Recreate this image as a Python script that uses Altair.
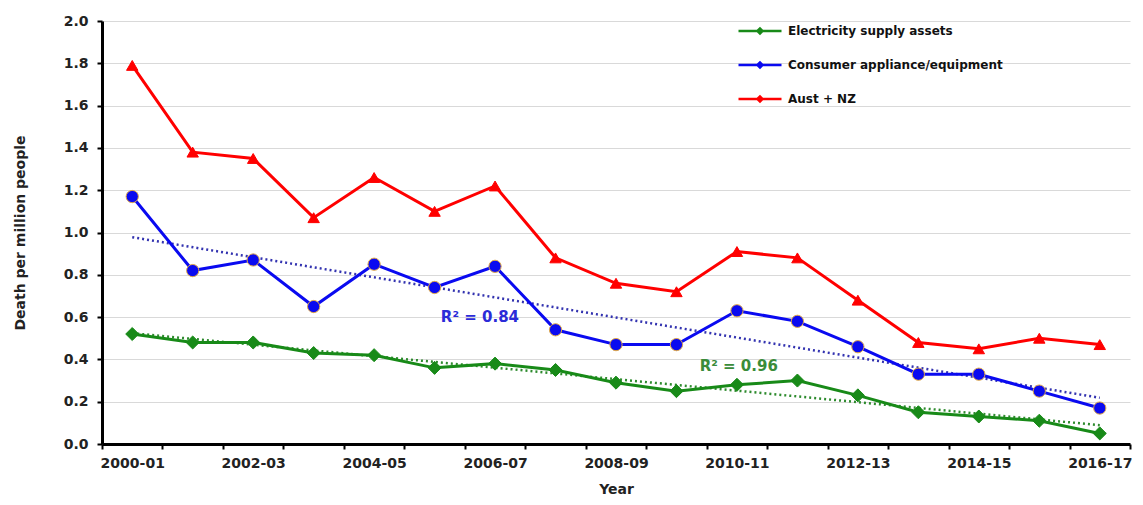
import altair as alt
import pandas as pd

years = ["2000-01", "2001-02", "2002-03", "2003-04", "2004-05", "2005-06",
         "2006-07", "2007-08", "2008-09", "2009-10", "2010-11", "2011-12",
         "2012-13", "2013-14", "2014-15", "2015-16", "2016-17"]

series_names = ["Electricity supply assets", "Consumer appliance/equipment", "Aust + NZ"]
marker_keys = ["elec", "cons", "aunz"]

electricity = [0.52, 0.48, 0.48, 0.43, 0.42, 0.36, 0.38, 0.35, 0.29, 0.25,
               0.28, 0.30, 0.23, 0.15, 0.13, 0.11, 0.05]
consumer = [1.17, 0.82, 0.87, 0.65, 0.85, 0.74, 0.84, 0.54, 0.47, 0.47,
            0.63, 0.58, 0.46, 0.33, 0.33, 0.25, 0.17]
aust_nz = [1.79, 1.38, 1.35, 1.07, 1.26, 1.10, 1.22, 0.88, 0.76, 0.72,
           0.91, 0.88, 0.68, 0.48, 0.45, 0.50, 0.47]

ann_labels = ["R² = 0.84", "R² = 0.96"]
ann_i = [5.75, 10.03]
ann_v = [0.60, 0.371]
ann_colors = ["#2B2BD8", "#3A8C3A"]

colors = ["#188A18", "#0A0AF0", "#FF0000"]
marker_strokes = ["#188A18", "#E0A848", "#FF0000"]
shapes = ["diamond", "circle", "triangle-up"]
sizes = [170, 130, 220]

rows = []
for name, key, vals in zip(series_names, marker_keys, [electricity, consumer, aust_nz]):
    for i, v in enumerate(vals):
        rows.append({"series": name, "mk": key, "year": years[i], "i": i, "v": v})
df = pd.DataFrame(rows)
ann = pd.DataFrame({"label": ann_labels, "i": ann_i, "v": ann_v, "c": ann_colors})

W = 1028
H = 423
band = W / len(years)
FONT = "DejaVu Sans"

label_arr = "[" + ",".join("'" + y + "'" for y in years) + "]"
label_expr = "((datum.value - 0.5) % 2 == 0) ? " + label_arr + "[datum.value - 0.5] : ''"

x_enc = alt.X(
    "i:Q",
    scale=alt.Scale(domain=[-0.5, len(years) - 0.5], nice=False, zero=False),
    axis=alt.Axis(
        values=[k - 0.5 for k in range(len(years) + 1)],
        labelExpr=label_expr,
        labelOffset=-band / 2,
        labelFlush=False,
        labelOverlap=False,
        grid=False,
        tickSize=5,
        tickWidth=2,
        tickColor="#000",
        domainColor="#000",
        domainWidth=3,
        labelPadding=7,
        labelFont=FONT,
        labelFontWeight="bold",
        labelFontSize=14,
        labelColor="#222",
        title="Year",
        titleFont=FONT,
        titleFontWeight="bold",
        titleFontSize=14,
        titleColor="#222",
        titlePadding=12,
    ),
)
y_enc = alt.Y(
    "v:Q",
    scale=alt.Scale(domain=[0, 2], nice=False),
    axis=alt.Axis(
        values=[k / 5 for k in range(11)],
        format=".1f",
        grid=True,
        gridColor="#D9D9D9",
        gridWidth=1,
        tickSize=5,
        tickWidth=2,
        tickColor="#000",
        domainColor="#000",
        domainWidth=3,
        labelPadding=9,
        labelFont=FONT,
        labelFontWeight="bold",
        labelFontSize=14,
        labelColor="#222",
        title="Death per million people",
        titleFont=FONT,
        titleFontWeight="bold",
        titleFontSize=14,
        titleColor="#222",
        titlePadding=36,
    ),
)

base = alt.Chart(df)

trend_blue = base.transform_filter(
    alt.datum.series == series_names[1]
).transform_regression("i", "v").mark_line(
    color="#3333B0", strokeWidth=2.5, strokeDash=[2, 3]
).encode(x=x_enc, y=y_enc)

trend_green = base.transform_filter(
    alt.datum.series == series_names[0]
).transform_regression("i", "v").mark_line(
    color="#2E8B2E", strokeWidth=2.5, strokeDash=[2, 3]
).encode(x=x_enc, y=y_enc)

legend = alt.Legend(
    title=None,
    orient="none",
    legendX=635,
    legendY=-13,
    symbolType="M-1,0H1M-0.12,0L0,-0.12L0.12,0L0,0.12Z",
    symbolSize=1849,
    symbolStrokeWidth=2.5,
    symbolFillColor=alt.ExprRef("scale('color', datum.value)"),
    labelFont=FONT,
    labelFontWeight="bold",
    labelFontSize=12,
    labelColor="#111",
    labelLimit=400,
    labelOffset=5,
    rowPadding=3,
)

lines = base.mark_line(strokeWidth=3).encode(
    x=x_enc,
    y=y_enc,
    color=alt.Color("series:N", scale=alt.Scale(domain=series_names, range=colors), legend=legend),
    detail="series:N",
)

points = base.mark_point(filled=True, opacity=1, strokeWidth=1).encode(
    x=x_enc,
    y=y_enc,
    fill=alt.Fill("mk:N", scale=alt.Scale(domain=marker_keys, range=colors), legend=None),
    stroke=alt.Stroke("mk:N", scale=alt.Scale(domain=marker_keys, range=marker_strokes), legend=None),
    shape=alt.Shape("mk:N", scale=alt.Scale(domain=marker_keys, range=shapes), legend=None),
    size=alt.Size("mk:N", scale=alt.Scale(domain=marker_keys, range=sizes), legend=None),
)

texts = alt.Chart(ann).mark_text(font=FONT, fontWeight="bold", fontSize=15).encode(
    x=x_enc,
    y=y_enc,
    text="label:N",
    color=alt.Color("c:N", scale=None),
)

chart = alt.layer(trend_blue, trend_green, lines, points, texts).properties(
    width=W,
    height=H,
    padding={"left": 5, "top": 0, "right": 0, "bottom": 0},
    background="white",
).configure_view(strokeWidth=0)

chart.save("out.html", embed_options={"renderer": "svg", "actions": False})
